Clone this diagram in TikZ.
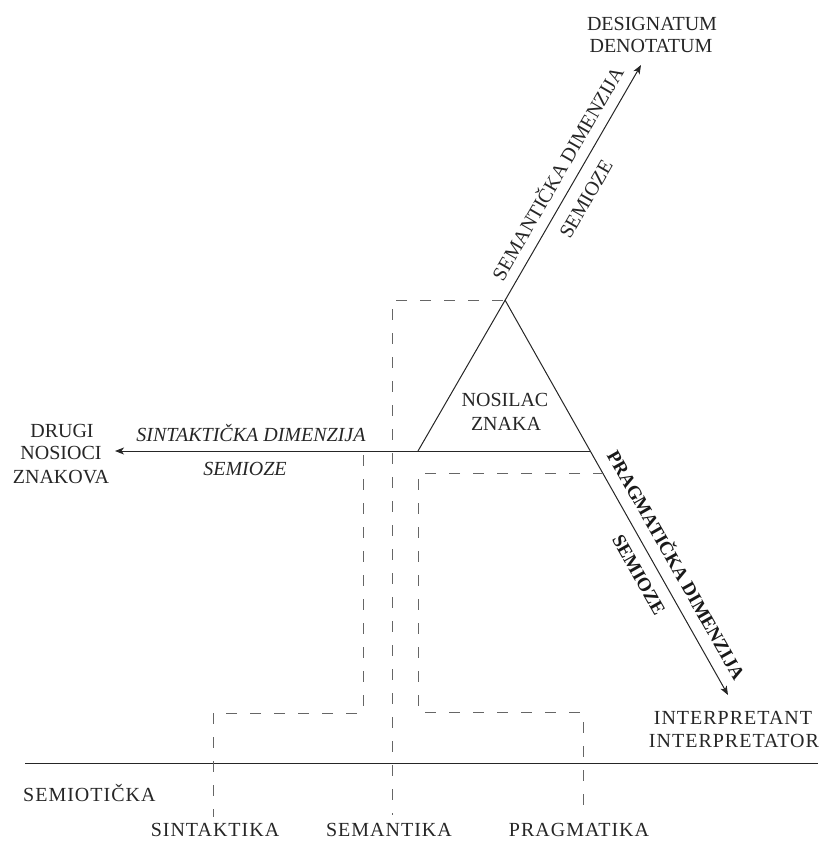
\documentclass[tikz,border=0pt]{standalone}
\usepackage{fontspec}
\setmainfont{Liberation Serif}
\newfontfamily\spaced[LetterSpace=5]{Liberation Serif}
\usetikzlibrary{arrows.meta}
\begin{document}
\begin{tikzpicture}[x=1pt,y=-1pt,
  solidln/.style={line width=1pt, draw=black!85},
  arr/.style={-{Stealth[length=9pt,width=7pt,inset=2.5pt]}},
  dashln/.style={line width=0.8pt, draw=black!60, dash pattern=on 11pt off 13pt},
  lbl/.style={font=\fontsize{20}{24}\selectfont, text=black!85, inner sep=0pt, anchor=base},
  slbl/.style={font=\spaced\fontsize{20}{24}\selectfont, text=black!85, inner sep=0pt, anchor=base},
  ilbl/.style={font=\itshape\fontsize{20}{24}\selectfont, text=black!85, inner sep=0pt, anchor=base},
  rlbl/.style={font=\fontsize{20}{24}\selectfont, text=black!85, inner sep=0pt, anchor=center, text height=13.5pt, text depth=0pt},
  blbl/.style={font=\bfseries\fontsize{19}{23}\selectfont, text=black!90, inner sep=0pt, anchor=center, text height=13pt, text depth=0pt}]
\useasboundingbox (0,0) rectangle (821,847);

% main geometry
\coordinate (apex) at (505,300);
\coordinate (bl) at (418,451);
\coordinate (br) at (590,451);
\coordinate (semtip) at (641,65);
\coordinate (pragtip) at (728,695);
\coordinate (sintip) at (115,451);
\coordinate (axl) at (25,763);
\coordinate (axr) at (818,763);

\draw[solidln, arr] (br) -- (sintip);
\draw[solidln, arr] (bl) -- (semtip);
\draw[solidln, arr] (apex) -- (pragtip);
\draw[solidln] (axl) -- (axr);

% dashed paths
\coordinate (sem1) at (503,300);
\coordinate (sem2) at (392,300);
\coordinate (sem3) at (392,815);
\draw[dashln] (sem1) -- (sem2) -- (sem3);

\coordinate (sin1) at (363,455);
\coordinate (sin2) at (363,713);
\coordinate (sin3) at (213,713);
\coordinate (sin4) at (213,817);
\draw[dashln] (sin1) -- (sin2) -- (sin3) -- (sin4);

\coordinate (pr1) at (604,473);
\coordinate (pr2) at (418,473);
\coordinate (pr3) at (418,712);
\coordinate (pr4) at (583,712);
\coordinate (pr5) at (583,815);
\draw[dashln] (pr1) -- (pr2) -- (pr3) -- (pr4) -- (pr5);

% labels
\node[lbl] (des1) at (652,30) {DESIGNATUM};
\node[lbl] (des2) at (651,52) {DENOTATUM};

\node[lbl] (nos1) at (505,406.5) {NOSILAC};
\node[lbl] (nos2) at (506,430.5) {ZNAKA};

\node[lbl] (dr1) at (62,437) {DRUGI};
\node[lbl] (dr2) at (61,459.5) {NOSIOCI};
\node[lbl] (dr3) at (61,483) {ZNAKOVA};

\node[ilbl] (sin) at (251,441.5) {SINTAKTIČKA DIMENZIJA};
\node[ilbl] (sinse) at (245,475) {SEMIOZE};

\node[rlbl, rotate=60] (semd) at (558,173.5) {SEMANTIČKA DIMENZIJA};
\node[rlbl, rotate=60] (semse) at (586,199) {SEMIOZE};

\node[blbl, rotate=-60.5] (prd) at (676,565) {PRAGMATIČKA DIMENZIJA};
\node[blbl, rotate=-60.5] (prse) at (639,575) {SEMIOZE};

\node[slbl] (int1) at (733,724) {INTERPRETANT};
\node[slbl] (int2) at (734,747) {INTERPRETATOR};

\node[slbl, anchor=base west] (semio) at (23,801) {SEMIOTIČKA};

\node[slbl] (sint) at (215,836) {SINTAKTIKA};
\node[slbl] (sema) at (389,836) {SEMANTIKA};
\node[slbl] (prag) at (579,836) {PRAGMATIKA};
\end{tikzpicture}
\end{document}
